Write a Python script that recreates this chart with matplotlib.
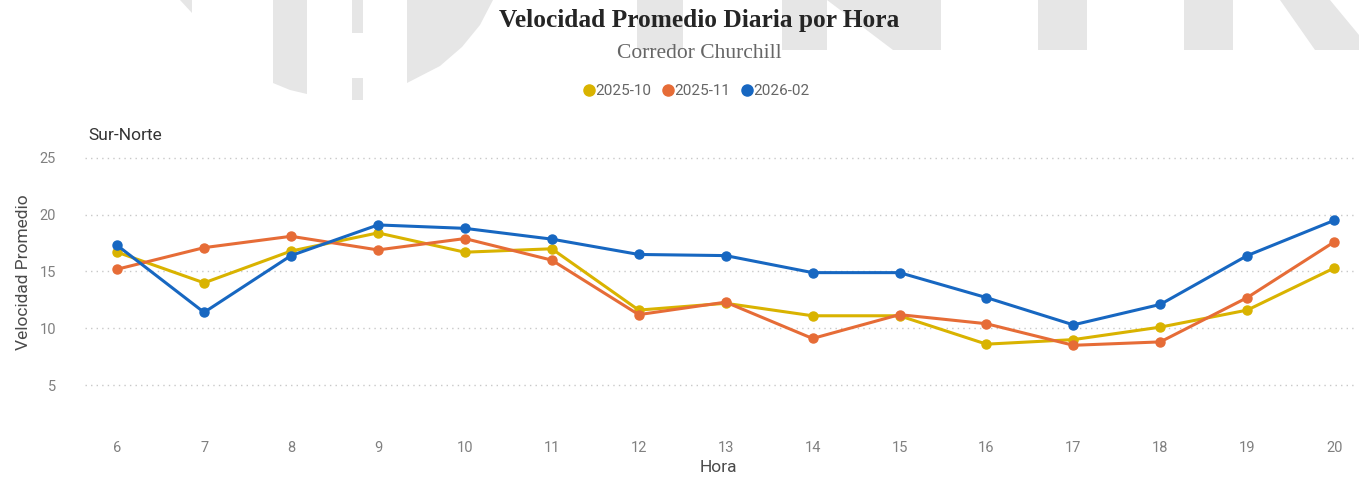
import matplotlib
matplotlib.use("Agg")
import matplotlib.pyplot as plt
import matplotlib.transforms as mtransforms
from matplotlib.lines import Line2D
from matplotlib.patches import Polygon

# Data
horas = [6, 7, 8, 9, 10, 11, 12, 13, 14, 15, 16, 17, 18, 19, 20]
vel_2025_10 = [16.7, 14.0, 16.8, 18.4, 16.7, 17.0, 11.6, 12.2, 11.1, 11.1, 8.6, 9.0, 10.1, 11.6, 15.3]
vel_2025_11 = [15.2, 17.1, 18.1, 16.9, 17.9, 16.0, 11.2, 12.3, 9.1, 11.2, 10.4, 8.5, 8.8, 12.7, 17.6]
vel_2026_02 = [17.3, 11.4, 16.4, 19.1, 18.8, 17.85, 16.5, 16.4, 14.9, 14.9, 12.7, 10.3, 12.1, 16.4, 19.5]
series_names = ["2025-10", "2025-11", "2026-02"]
y_ticks = [5, 10, 15, 20, 25]

colors = ["#D9B300", "#E66C37", "#1767C1"]

W, H = 1359, 480
fig = plt.figure(figsize=(W / 100, H / 100), dpi=100)

# pixel transform (top-left origin) for the faint background watermark
px = mtransforms.Affine2D().scale(1 / W, -1 / H).translate(0, 1) + fig.transFigure
wm_color = "#e6e6e6"
watermark = [
    [(180, 0), (192, 0), (192, 13)],
    [(273, 0), (307, 0), (307, 94), (290, 90), (273, 83)],
    [(352, 0), (363, 0), (363, 33), (352, 33)],
    [(352, 78), (363, 78), (363, 100), (352, 100)],
    [(407, 0), (493, 0), (480, 25), (462, 47), (440, 66), (407, 83)],
    [(637, 0), (683, 0), (683, 50), (637, 50)],
    [(782, 0), (827, 0), (827, 50), (782, 50)],
    [(827, 0), (941, 0), (941, 50), (893, 50)],
    [(1038, 0), (1087, 0), (1087, 50), (1038, 50)],
    [(1184, 0), (1233, 0), (1233, 50), (1184, 50)],
    [(1280, 0), (1330, 0), (1359, 35), (1359, 50), (1315, 50)],
]
for pts in watermark:
    fig.add_artist(Polygon(pts, closed=True, transform=px, facecolor=wm_color,
                           edgecolor="none", zorder=0))

ax = fig.add_axes([85 / W, 1 - 435 / H, 1270 / W, 285 / H])
ax.set_facecolor("none")

for vals, name, col in zip([vel_2025_10, vel_2025_11, vel_2026_02], series_names, colors):
    ax.plot(horas, vals, color=col, lw=2.2, marker="o", ms=6.5, label=name,
            solid_joinstyle="round", zorder=3)

ax.set_xlim(5.63, 20.24)
ax.set_ylim(0.6, 25.7)
ax.set_xticks(horas)
ax.set_yticks(y_ticks)
ax.tick_params(axis="both", length=0, labelsize=10.5, labelcolor="#808080", labelfontfamily="Roboto")
ax.tick_params(axis="x", pad=4)
ax.tick_params(axis="y", pad=21)
ax.grid(axis="y", linestyle=(0, (1, 3)), color="#c8c8c8", lw=1)
for s in ax.spines.values():
    s.set_visible(False)

fig.text(24 / W, 1 - 272 / H, "Velocidad Promedio", rotation=90, ha="center", va="center",
         fontsize=12.5, color="#4a4a4a", family="Roboto")
fig.text(718 / W, 1 - 468 / H, "Hora", ha="center", va="center",
         fontsize=12.5, color="#4a4a4a", family="Roboto")
fig.text(88 / W, 1 - 135 / H, "Sur-Norte", ha="left", va="center",
         fontsize=12.5, color="#333333", family="Roboto")

fig.text(699 / W, 1 - 21 / H, "Velocidad Promedio Diaria por Hora", ha="center", va="center",
         fontsize=18.3, fontweight="bold", color="#252525", family="Liberation Serif")
fig.text(699 / W, 1 - 53 / H, "Corredor Churchill", ha="center", va="center",
         fontsize=15.5, color="#666666", family="Liberation Serif")

handles = [Line2D([], [], ls="none", marker="o", ms=8, color=c) for c in colors]
fig.legend(handles, series_names, loc="center", bbox_to_anchor=(697 / W, 1 - 91 / H),
           ncol=3, frameon=False, handlelength=0.6, handletextpad=0.1, columnspacing=0.8,
           prop={"family": "Roboto", "size": 11}, labelcolor="#666666")

fig.savefig("out.png", dpi=100)
